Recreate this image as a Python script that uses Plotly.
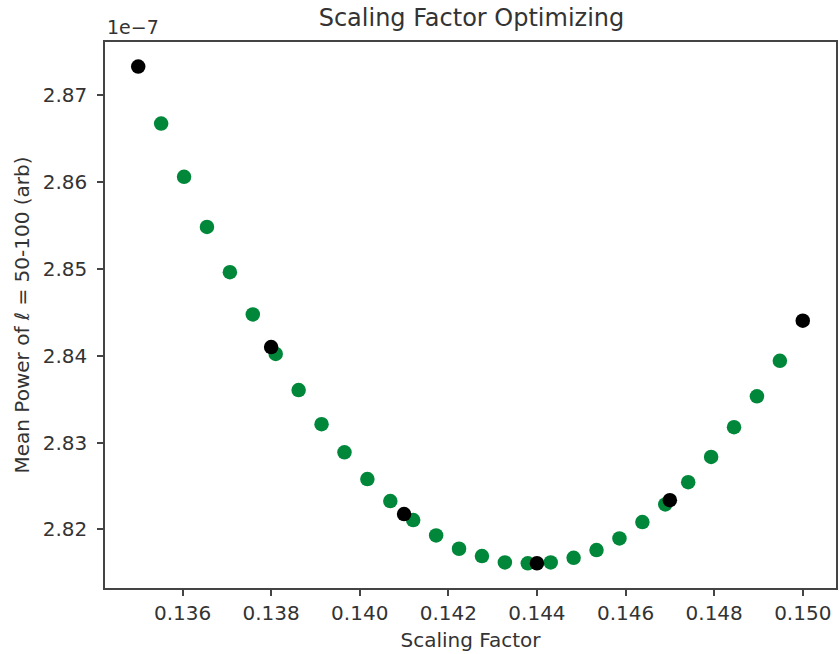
import numpy as np
import plotly.graph_objects as go

# Coarse scan of the scaling factor (black) and the fine scan in between (green)
coarse_factor = [0.135, 0.138, 0.141, 0.144, 0.147, 0.150]
coarse_power = [2.8733, 2.8410, 2.82176, 2.8161, 2.82337, 2.84403]  # x 1e-7

fine_factor = [0.135 + k * 0.015 / 29 for k in range(1, 29)]
fine_power = [
    2.86674, 2.86061, 2.85483, 2.84962, 2.84476, 2.84020, 2.83605, 2.83211,
    2.82888, 2.82579, 2.82326, 2.82107, 2.81931, 2.81777, 2.81693, 2.81620,
    2.81609, 2.81620, 2.81673, 2.81762, 2.81896, 2.82084, 2.82288, 2.82544,
    2.82835, 2.83177, 2.83533, 2.83942,
]  # x 1e-7

x_ticks = [0.136, 0.138, 0.140, 0.142, 0.144, 0.146, 0.148, 0.150]
y_ticks = [2.82, 2.83, 2.84, 2.85, 2.86, 2.87]

font_family = "DejaVu Sans"
text_color = "#333333"
axis_color = "#444444"

fig = go.Figure()
fig.add_trace(go.Scatter(
    x=fine_factor, y=fine_power, mode="markers",
    marker=dict(color="#00873a", size=14.5, line=dict(width=0)),
    showlegend=False, hoverinfo="x+y",
))
fig.add_trace(go.Scatter(
    x=coarse_factor, y=coarse_power, mode="markers",
    marker=dict(color="#000000", size=14.5, line=dict(width=0)),
    showlegend=False, hoverinfo="x+y",
))

axis_common = dict(
    showgrid=False, zeroline=False, showline=True, mirror=True,
    linecolor=axis_color, linewidth=1.5,
    ticks="outside", ticklen=6, tickwidth=1.5, tickcolor=axis_color,
    tickfont=dict(family=font_family, size=20, color=text_color),
)

fig.update_layout(
    width=839, height=654,
    margin=dict(l=105, r=1, t=42, b=66),
    paper_bgcolor="white", plot_bgcolor="white",
    font=dict(family=font_family, color=text_color),
    title=dict(
        text="Scaling Factor Optimizing",
        font=dict(family=font_family, size=24, color=text_color),
        x=(105 + 838) / 2 / 839, xanchor="center",
        y=1 - 18 / 654, yanchor="middle",
    ),
    xaxis=dict(
        range=[0.13425, 0.15075], tickvals=x_ticks,
        ticktext=[f"{v:.3f}" for v in x_ticks],
        title=dict(text="Scaling Factor", standoff=9,
                   font=dict(family=font_family, size=20, color=text_color)),
        **axis_common,
    ),
    yaxis=dict(
        range=[2.81325, 2.87613], tickvals=y_ticks,
        ticktext=[f"{v:.2f}" for v in y_ticks],
        ticklabelstandoff=6,
        title=dict(text="Mean Power of <i>ℓ</i> = 50-100 (arb)", standoff=8,
                   font=dict(family=font_family, size=20, color=text_color)),
        **axis_common,
    ),
    annotations=[dict(
        text="1e\u22127", xref="paper", yref="paper", x=0, y=1,
        xanchor="left", yanchor="bottom", yshift=2, showarrow=False,
        font=dict(family=font_family, size=19, color=text_color),
    )],
)

fig.write_html("out.html")
